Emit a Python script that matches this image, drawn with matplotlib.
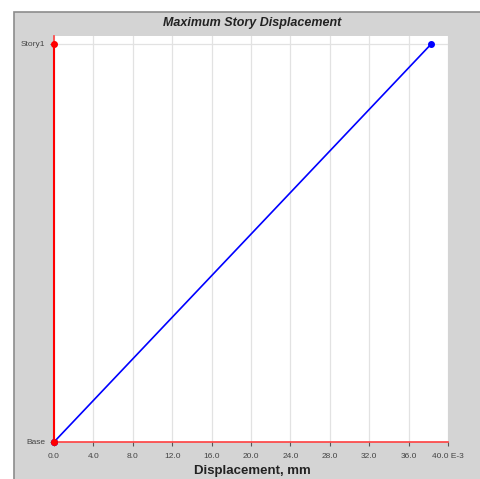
import matplotlib
matplotlib.use("Agg")
import matplotlib.pyplot as plt
from matplotlib.patches import Rectangle

plt.rcParams["font.family"] = ["Liberation Sans", "DejaVu Sans"]

# Story levels and peak displacement (x 1e-3 mm)
stories = ["Base", "Story1"]
levels = [0, 1]
displacement = [0.0, 38.3]

x_ticks = [0, 4, 8, 12, 16, 20, 24, 28, 32, 36, 40]
x_labels = ["0.0", "4.0", "8.0", "12.0", "16.0", "20.0", "24.0",
            "28.0", "32.0", "36.0", "40.0 E-3"]

W, H = 480, 479
fig = plt.figure(figsize=(W / 100, H / 100), dpi=100, facecolor="white")

# Gray frame behind the chart
panel = Rectangle((14 / W, -0.01), 1.0, 1 - 12 / H + 0.01,
                  transform=fig.transFigure, facecolor="#d4d4d4",
                  edgecolor="#8c8c8c", linewidth=1.2, zorder=-10)
fig.patches.append(panel)

ax = fig.add_axes([54 / W, 1 - 442 / H, (448 - 54) / W, (442 - 36) / H])
ax.set_zorder(5)
ax.set_facecolor("white")
ax.set_xlim(0, 40)
ax.set_ylim(0, 1.02)

ax.set_xticks(x_ticks)
ax.set_xticklabels(x_labels)
ax.set_yticks(levels)
ax.set_yticklabels(stories)
ax.tick_params(axis="x", pad=5)
ax.tick_params(axis="both", length=3, width=0.8, color="#555555",
               labelsize=6, labelcolor="#444444")

ax.grid(True, color="#e2e2e2", linewidth=0.9)
ax.set_axisbelow(True)
for side in ["top", "right"]:
    ax.spines[side].set_visible(False)
for side in ["left", "bottom"]:
    ax.spines[side].set_color("#ff4040")
    ax.spines[side].set_linewidth(1.2)

# Red reference line at zero displacement
ax.plot([0, 0], [levels[0], levels[-1]], color="red", linewidth=1.5,
        marker="o", markersize=4, clip_on=False, zorder=3)
ax.plot(displacement, levels, color="blue", linewidth=1.2,
        marker="o", markersize=4, clip_on=False, zorder=4)
ax.plot([0], [0], color="red", marker="o", markersize=4,
        clip_on=False, zorder=5)

fig.text(252 / W, 1 - 23 / H, "Maximum Story Displacement",
         ha="center", va="center", fontsize=9, fontweight="bold",
         fontstyle="italic", color="#222222", zorder=6)
fig.text(252 / W, 1 - 471 / H, "Displacement, mm",
         ha="center", va="center", fontsize=9.5, fontweight="bold",
         color="#222222", zorder=6)

fig.savefig("out.png", dpi=100, facecolor="white")
